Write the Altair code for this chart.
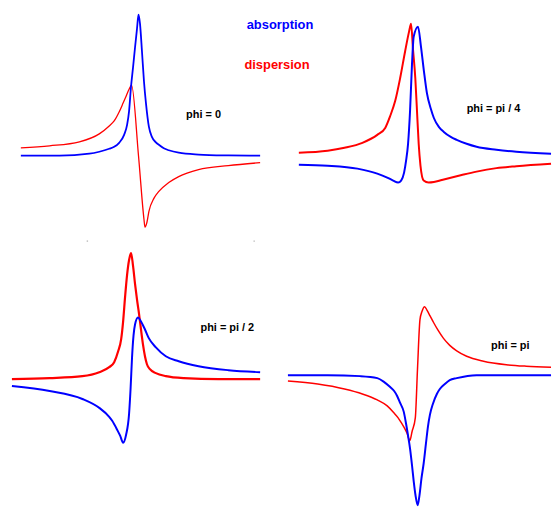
import altair as alt
import pandas as pd

# ---- phi = 0 (top left) : frequency offset / signal ----
TL_ABS_F = [-118, -79, -49, -39, -29, -24, -19, -14, -11, -9, -7, -5, -3, -1, 0.5, 2, 4, 6, 8, 11, 14, 18, 21, 26, 31, 41, 61, 91, 123]
TL_ABS_S = [0, 0, 2, 4, 7, 9, 13, 21, 31, 45, 70, 89, 109, 128, 142, 133, 105, 75, 53, 29, 19, 13.5, 11, 7.5, 5.5, 3, 1.2, 0.3, 0]
TL_DIS_F = [-118, -89, -59, -39, -29, -24, -19, -15, -12, -9, -6.5, 0.5, 6, 7, 9, 11, 16, 21, 31, 41, 61, 91, 123]
TL_DIS_S = [8, 10, 14, 22, 30, 35, 44, 53, 60, 67, 71, 0, -64, -72, -67, -56, -43, -36, -27, -21, -14, -10, -7]

# ---- phi = pi/4 (top right) ----
TR_ABS_F = [-117, -88, -58, -38, -28, -22, -17, -14, -11, -9, -7, -5, -3, -1.3, 3, 6, 9, 12, 16, 19, 24, 29, 36, 42, 52, 62, 82, 102, 137]
TR_ABS_S = [-6, -7, -10, -15, -19, -22, -24, -22, -14, -2, 15, 48, 96, 123, 133, 113, 88, 66, 50, 41, 32, 27, 22, 19, 15, 12, 9, 7, 5]
TR_DIS_F = [-117, -88, -71, -53, -38, -30, -25, -20, -15, -10, -6, -4, -2, 0.3, 2, 3.7, 5.5, 8.7, 13.7, 19, 27, 35, 47, 62, 82, 102, 137]
TR_DIS_S = [6, 8, 11, 16, 24, 31, 43, 58, 81, 108, 128, 136, 110, 81, 48, 15, -7, -22, -24, -23.5, -21.5, -19.5, -16.5, -13, -9.5, -7.5, -5]

# ---- phi = pi/2 (bottom left) ----
BL_ABS_F = [-120, -82, -49, -32, -22, -19, -14, -11, -8, -5, -2, -0.5, 1, 2.5, 4, 7, 10, 14, 18, 25, 35, 48, 68, 98, 130]
BL_ABS_S = [-7, -12, -20, -29, -38, -42, -51, -57, -64, -56, -35, -10, 22, 44, 55, 62, 58, 50, 41, 32, 23, 18, 13, 9, 7]
BL_DIS_F = [-120, -82, -49, -32, -22, -17, -13, -10, -8, -6, -4, -2, 0, 2, 4, 6, 8, 10, 12, 14, 16, 19, 25, 35, 53, 88, 130]
BL_DIS_S = [0, 1, 3, 7, 12, 17, 28, 40, 58, 83, 105, 120, 127, 114, 96, 80, 66, 50, 35, 23, 15, 10, 6, 3, 1, 0, 0]

# ---- phi = pi (bottom right) ----
BR_ABS_F = [-130, -90, -57, -40, -33, -27, -23, -20, -17, -13.3, -11, -9, -7, -5, -3.3, -1.5, 0.7, 2.5, 4.5, 6.7, 9, 11, 13, 16, 20, 23, 28, 33, 40, 60, 135]
BR_ABS_S = [0, 0, -1, -3, -7, -12, -16, -21, -28, -37, -49, -61, -74, -91, -107, -121, -131, -121, -104, -89, -69, -52, -40, -29, -19, -14, -9, -5, -3, 0, 0]
BR_DIS_F = [-130, -100, -73, -55, -40, -30, -23.3, -19, -16, -13.3, -10, -7.3, -5, -1.7, 0.5, 3, 5, 7.7, 10, 13, 16.7, 21, 26.7, 33, 40, 50, 67, 90, 110, 135]
BR_DIS_S = [-6, -9, -14, -19, -25, -31, -38, -43, -47.5, -52, -58.5, -66, -57, -43, 6, 56, 64, 69, 65.5, 60, 53, 45.5, 37, 30, 24.5, 19, 14, 10.5, 9, 8]

# two faint specks above the phi = pi/2 panel
SPECK_F = [-44, 124]
SPECK_S = [139, 139]

# panel label text, with its place in the panel's own units
PANEL_LABELS = ["phi = 0", "phi = pi / 4", "phi = pi / 2", "phi = pi"]
LABEL_F = [66, 79, 97, 94]
LABEL_S = [41, 50, 51, 29.5]

SERIES = ["absorption", "dispersion"]
COLORS = ["#0000ff", "#ff0000"]

FONT = "Liberation Sans"


def panel(name, abs_f, abs_s, dis_f, dis_s, xdom, ydom, w, h, label, lf, ls,
          abs_w=2.0, dis_w=2.0, legend=False, specks=False):
    xs = alt.X("f:Q", axis=None, scale=alt.Scale(domain=xdom, nice=False, zero=False))
    ys = alt.Y("s:Q", axis=None, scale=alt.Scale(domain=ydom, nice=False, zero=False))
    a = pd.DataFrame({"f": abs_f, "s": abs_s, "curve": SERIES[0], "p": name})
    d = pd.DataFrame({"f": dis_f, "s": dis_s, "curve": SERIES[1], "p": name})
    col = alt.Color("curve:N", legend=None,
                    scale=alt.Scale(domain=SERIES, range=COLORS))
    layers = [
        alt.Chart(d).mark_line(strokeWidth=dis_w, interpolate="monotone")
        .encode(x=xs, y=ys, color=col),
        alt.Chart(a).mark_line(strokeWidth=abs_w, interpolate="monotone")
        .encode(x=xs, y=ys, color=col),
        alt.Chart(pd.DataFrame({"f": [lf], "s": [ls], "t": [label]}))
        .mark_text(font=FONT, fontWeight="bold", fontSize=11, color="black",
                   align="center", baseline="middle")
        .encode(x=xs, y=ys, text="t:N"),
    ]
    if legend:
        leg = pd.DataFrame({"f": [143, 140], "s": [132, 91], "curve": SERIES})
        layers.append(
            alt.Chart(leg).mark_text(font=FONT, fontWeight="bold", fontSize=13,
                                     align="center", baseline="middle")
            .encode(x=xs, y=ys, text="curve:N", color=col)
        )
    if specks:
        sp = pd.DataFrame({"f": SPECK_F, "s": SPECK_S})
        layers.append(
            alt.Chart(sp).mark_square(size=2, color="#bbbbbb", opacity=1)
            .encode(x=xs, y=ys)
        )
    return alt.layer(*layers).properties(width=w, height=h)


tl = panel("tl", TL_ABS_F, TL_ABS_S, TL_DIS_F, TL_DIS_S, [-139, 141], [-85, 155], 280, 240,
           PANEL_LABELS[0], LABEL_F[0], LABEL_S[0], abs_w=1.8, dis_w=1.3, legend=True)
tr = panel("tr", TR_ABS_F, TR_ABS_S, TR_DIS_F, TR_DIS_S, [-138, 137], [-82, 158], 275, 240,
           PANEL_LABELS[1], LABEL_F[1], LABEL_S[1], abs_w=2.0, dis_w=2.0)
bl = panel("bl", BL_ABS_F, BL_ABS_S, BL_DIS_F, BL_DIS_S, [-132, 148], [-130, 140], 280, 270,
           PANEL_LABELS[2], LABEL_F[2], LABEL_S[2], abs_w=2.0, dis_w=2.2, specks=True)
br = panel("br", BR_ABS_F, BR_ABS_S, BR_DIS_F, BR_DIS_S, [-140, 135], [-134, 136], 275, 270,
           PANEL_LABELS[3], LABEL_F[3], LABEL_S[3], abs_w=2.0, dis_w=1.5)

chart = (
    alt.concat(tl, tr, bl, br, columns=2, spacing=0, bounds="flush")
    .properties(padding=0, background="white")
    .configure_view(stroke=None)
)

chart.save("out.html", embed_options={"renderer": "svg", "actions": False})
